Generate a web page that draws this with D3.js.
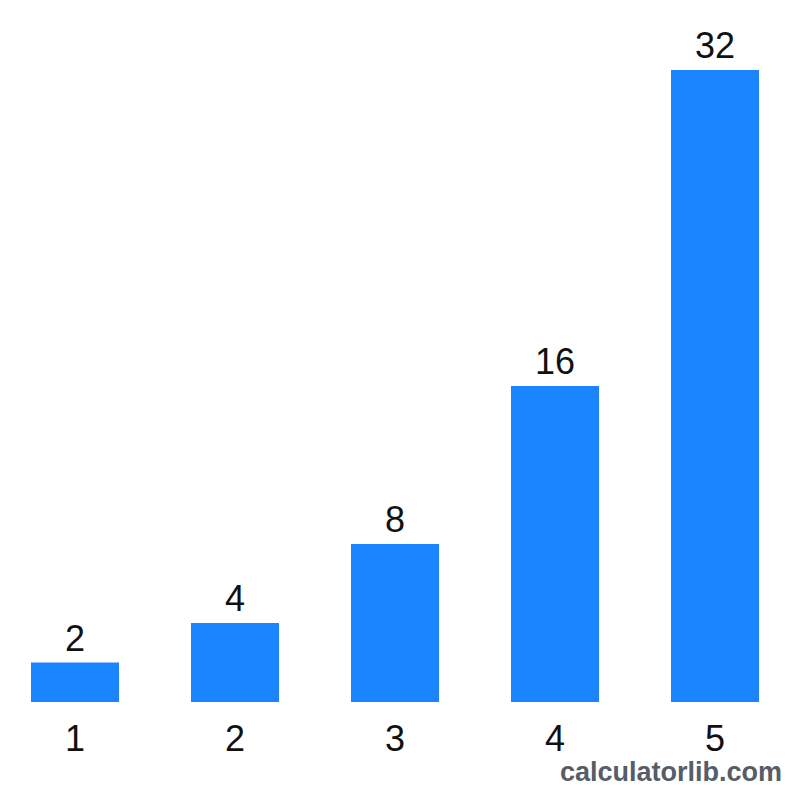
<!DOCTYPE html>
<html>
<head>
<meta charset="utf-8">
<script src="https://cdn.jsdelivr.net/npm/d3@7"></script>
<style>
  body { margin: 0; background: #fff; }
  svg { display: block; font-family: "Liberation Sans", Arial, sans-serif; }
</style>
</head>
<body>
<svg id="drawing_region"></svg>
<script>
const categories = ["1", "2", "3", "4", "5"];
const values = [2, 4, 8, 16, 32];

const width = 800, height = 800;
const base = 702, top_y = 70;

const svg = d3.select('#drawing_region')
    .attr('width', width)
    .attr('height', height);

const xscale = d3.scaleBand()
    .domain(categories)
    .range([-5, 795])
    .paddingInner(0.45)
    .paddingOuter(0.225);

const yscale = d3.scaleLinear()
    .domain([0, 32])
    .range([base, top_y]);

const data = categories.map((c, i) => ({ cat: c, val: values[i] }));

svg.selectAll('rect').data(data).enter()
    .append('rect')
    .attr('x', d => xscale(d.cat))
    .attr('y', d => yscale(d.val))
    .attr('width', xscale.bandwidth())
    .attr('height', d => base - yscale(d.val))
    .style('fill', '#1a85ff');

// value labels above bars
svg.selectAll('.val').data(data).enter()
    .append('text')
    .attr('class', 'val')
    .attr('x', d => xscale(d.cat) + xscale.bandwidth() / 2)
    .attr('y', d => yscale(d.val) - 12)
    .attr('text-anchor', 'middle')
    .style('font-size', '36px')
    .style('fill', '#111')
    .text(d => d.val);

// x axis labels, no line
const xaxis = d3.axisBottom(xscale).tickSize(0).tickPadding(0);
const xg = svg.append('g')
    .attr('transform', `translate(0, ${base})`)
    .call(xaxis);
xg.select('.domain').remove();
xg.selectAll('text')
    .attr('dy', null)
    .attr('y', 49)
    .style('font-size', '36px')
    .style('font-family', '"Liberation Sans", Arial, sans-serif')
    .style('fill', '#111');

svg.append('text')
    .attr('x', 782)
    .attr('y', 781)
    .attr('text-anchor', 'end')
    .style('font-size', '27px')
    .style('font-weight', 'bold')
    .style('fill', '#565d69')
    .text('calculatorlib.com');
</script>
</body>
</html>
